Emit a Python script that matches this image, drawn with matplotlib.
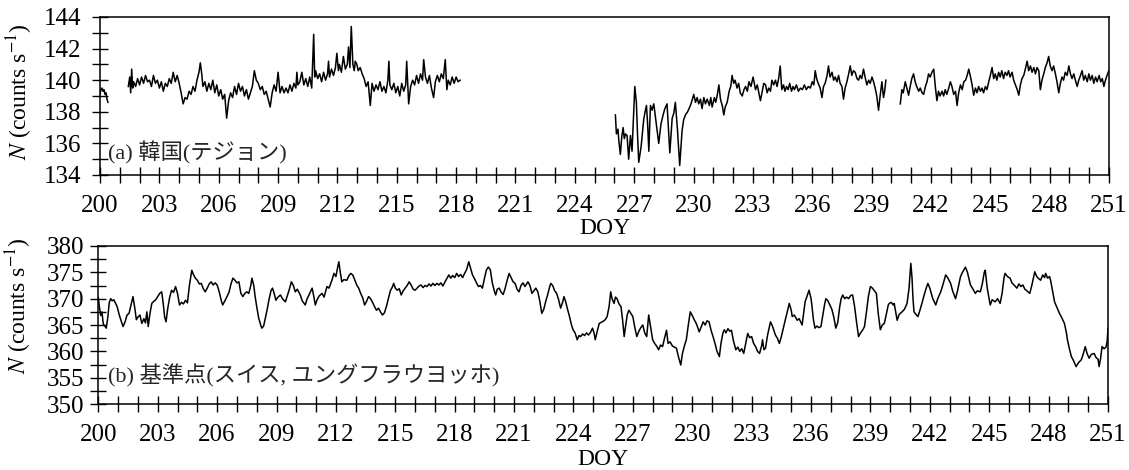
import numpy as np
import matplotlib
matplotlib.use("Agg")
import matplotlib.pyplot as plt
from matplotlib.ticker import FixedLocator, MultipleLocator

plt.rcParams['font.family'] = ['Liberation Serif', 'Noto Sans CJK JP']
plt.rcParams['mathtext.fontset'] = 'stix'

# x axis: DOY, labelled every 3 days, tick every day
doy_labels = [200, 203, 206, 209, 212, 215, 218, 221, 224, 227, 230, 233, 236, 239, 242, 245, 248, 251]

# (a) Daejeon, Korea -- (DOY, counts/s), four pieces with data gaps between them
daejeon_1 = [(200.0, 139.1), (200.05, 139.4), (200.1, 139.5), (200.15, 139.3), (200.2, 139.4),
             (200.25, 139.1), (200.3, 139.2), (200.35, 138.8), (200.4, 138.6)]

daejeon_2 = [
    (201.43, 139.6), (201.5, 140.2), (201.55, 139.2), (201.6, 140.7), (201.65, 139.5), (201.7, 139.9),
    (201.8, 139.6), (201.9, 140.1), (202.0, 139.7), (202.1, 140.2), (202.2, 139.8), (202.3, 140.3),
    (202.4, 139.9), (202.5, 140.0), (202.6, 139.6), (202.7, 140.3), (202.8, 139.8), (202.9, 140.0),
    (203.0, 139.5), (203.1, 139.9), (203.2, 139.3), (203.3, 139.8), (203.4, 139.6), (203.5, 140.1),
    (203.6, 139.8), (203.7, 140.5), (203.8, 139.9), (203.9, 140.3), (204.0, 139.8), (204.1, 139.2),
    (204.2, 138.5), (204.3, 138.9), (204.4, 138.8), (204.5, 139.3), (204.6, 139.1), (204.7, 139.6),
    (204.8, 139.3), (204.9, 140.0), (205.0, 140.5), (205.07, 141.1), (205.15, 140.3), (205.2, 139.6),
    (205.3, 139.9), (205.4, 139.3), (205.5, 139.8), (205.6, 139.4), (205.7, 140.0), (205.8, 139.2),
    (205.9, 139.7), (206.0, 139.0), (206.1, 139.4), (206.2, 138.8), (206.3, 139.1), (206.4, 137.6),
    (206.5, 138.7), (206.6, 139.2), (206.7, 138.9), (206.8, 139.6), (206.9, 139.1), (207.0, 139.8),
    (207.1, 139.3), (207.2, 139.6), (207.3, 139.0), (207.4, 139.4), (207.5, 138.8), (207.6, 139.2),
    (207.7, 139.6), (207.8, 140.6), (207.9, 140.0), (208.0, 139.8), (208.1, 139.4), (208.2, 139.6),
    (208.3, 139.1), (208.4, 139.3), (208.5, 138.8), (208.6, 138.3), (208.7, 139.2), (208.8, 139.7),
    (208.9, 139.3), (209.0, 140.5), (209.1, 139.2), (209.2, 139.6), (209.3, 139.2), (209.4, 139.5),
    (209.5, 139.2), (209.6, 139.7), (209.7, 139.3), (209.8, 139.8), (209.9, 139.5), (209.95, 140.5),
    (210.0, 139.7), (210.1, 139.9), (210.2, 140.5), (210.3, 139.7), (210.4, 140.1), (210.5, 139.6),
    (210.6, 140.2), (210.7, 139.5), (210.8, 142.9), (210.85, 140.2), (210.9, 140.6), (211.0, 140.1),
    (211.1, 140.4), (211.2, 139.9), (211.3, 140.5), (211.4, 140.0), (211.5, 140.4), (211.55, 141.2),
    (211.6, 140.2), (211.7, 140.7), (211.8, 140.3), (211.9, 140.8), (211.97, 141.7), (212.05, 140.6),
    (212.1, 141.0), (212.2, 140.5), (212.3, 141.5), (212.4, 140.7), (212.5, 141.0), (212.56, 142.1),
    (212.63, 140.8), (212.7, 143.4), (212.78, 141.0), (212.85, 140.6), (212.9, 141.2), (212.98, 141.0),
    (213.05, 140.6), (213.15, 140.8), (213.25, 140.4), (213.35, 140.1), (213.45, 139.6), (213.55, 139.9),
    (213.66, 138.4), (213.75, 139.8), (213.85, 139.3), (213.95, 139.7), (214.05, 139.4), (214.15, 139.9),
    (214.25, 139.3), (214.35, 139.6), (214.45, 139.2), (214.55, 140.0), (214.6, 141.2), (214.65, 139.7),
    (214.75, 139.4), (214.85, 139.8), (214.95, 139.2), (215.05, 139.6), (215.15, 139.0), (215.25, 139.8),
    (215.35, 139.3), (215.45, 139.7), (215.5, 141.2), (215.6, 138.5), (215.7, 139.6), (215.8, 140.0),
    (215.9, 139.7), (216.0, 140.3), (216.1, 139.8), (216.2, 140.4), (216.3, 140.0), (216.36, 141.3),
    (216.45, 140.2), (216.55, 139.8), (216.65, 140.3), (216.75, 139.5), (216.86, 138.9), (216.95, 139.9),
    (217.05, 140.3), (217.15, 139.9), (217.25, 140.4), (217.35, 140.1), (217.45, 141.3), (217.53, 139.4),
    (217.6, 140.0), (217.7, 139.7), (217.8, 140.2), (217.9, 139.8), (218.0, 140.2), (218.1, 139.9),
    (218.2, 140.0),
]

daejeon_3 = [
    (226.05, 137.8), (226.1, 136.6), (226.18, 136.9), (226.22, 136.2), (226.3, 135.3), (226.37, 136.4),
    (226.44, 137.0), (226.5, 136.3), (226.56, 136.6), (226.64, 136.5), (226.72, 135.0), (226.81, 136.5),
    (226.89, 135.5), (226.96, 137.5), (227.03, 139.6), (227.11, 138.6), (227.17, 136.5), (227.23, 134.8),
    (227.35, 135.8), (227.48, 137.5), (227.55, 138.0), (227.62, 138.4), (227.68, 137.2), (227.74, 135.5),
    (227.82, 138.4), (227.9, 138.1), (227.99, 138.5), (228.08, 137.6), (228.16, 136.8), (228.24, 136.0),
    (228.35, 137.2), (228.46, 137.8), (228.55, 138.2), (228.66, 138.5), (228.73, 137.0), (228.8, 135.4),
    (228.92, 137.6), (229.0, 137.9), (229.08, 138.6), (229.18, 137.0), (229.3, 134.6), (229.42, 136.8),
    (229.5, 137.5), (229.59, 137.8), (229.7, 138.0), (229.84, 138.4), (229.92, 138.7), (230.01, 139.1),
    (230.1, 138.6), (230.18, 138.9), (230.26, 138.5), (230.35, 138.8), (230.43, 138.2), (230.52, 138.9),
    (230.6, 138.5), (230.69, 138.8), (230.8, 138.4), (230.87, 138.9), (230.94, 138.3), (231.05, 138.9),
    (231.12, 138.6), (231.19, 139.0), (231.28, 139.7), (231.36, 138.8), (231.45, 138.4), (231.53, 137.8),
    (231.6, 138.3), (231.7, 138.6), (231.8, 139.3), (231.88, 139.6), (231.95, 140.3), (232.03, 139.8),
    (232.1, 140.0), (232.2, 139.5), (232.28, 139.8), (232.36, 139.2), (232.46, 139.0), (232.55, 139.4),
    (232.63, 139.6), (232.72, 139.3), (232.8, 139.9), (232.9, 139.6), (233.01, 140.2), (233.07, 139.8),
    (233.13, 139.4), (233.22, 139.7), (233.3, 139.2), (233.38, 138.7), (233.47, 139.3), (233.55, 139.8),
    (233.64, 139.7), (233.72, 139.2), (233.8, 139.5), (233.89, 139.3), (233.96, 140.0), (234.05, 139.7),
    (234.14, 140.0), (234.22, 139.6), (234.3, 140.1), (234.38, 140.9), (234.46, 139.4), (234.55, 139.7),
    (234.62, 139.3), (234.7, 139.6), (234.78, 139.4), (234.86, 139.8), (234.95, 139.3), (235.03, 139.6),
    (235.1, 139.4), (235.2, 139.7), (235.3, 139.3), (235.4, 139.5), (235.5, 139.4), (235.6, 139.7),
    (235.7, 139.4), (235.8, 139.6), (235.9, 139.5), (236.0, 139.9), (236.08, 139.7), (236.15, 140.6),
    (236.22, 140.1), (236.3, 139.8), (236.4, 139.5), (236.49, 138.9), (236.57, 139.6), (236.65, 139.8),
    (236.75, 140.3), (236.82, 140.9), (236.9, 140.2), (237.0, 140.5), (237.08, 140.0), (237.16, 140.2),
    (237.25, 139.9), (237.33, 140.3), (237.41, 139.8), (237.5, 139.6), (237.58, 138.8), (237.66, 139.5),
    (237.75, 139.9), (237.84, 140.4), (237.92, 140.9), (238.0, 140.3), (238.08, 140.6), (238.17, 140.5),
    (238.26, 140.1), (238.34, 140.0), (238.42, 140.3), (238.5, 140.1), (238.59, 140.7), (238.67, 140.2),
    (238.76, 139.7), (238.85, 140.0), (238.93, 139.8), (239.02, 140.2), (239.1, 139.9), (239.18, 139.5),
    (239.26, 139.0), (239.35, 138.1), (239.43, 139.0), (239.52, 139.9), (239.6, 138.9), (239.66, 139.3),
    (239.72, 140.0),
]

daejeon_4 = [
    (240.45, 138.5), (240.53, 139.4), (240.6, 139.2), (240.7, 139.9), (240.78, 139.5), (240.87, 139.05),
    (240.95, 139.6), (241.03, 140.1), (241.12, 140.4), (241.2, 139.9), (241.28, 139.6), (241.38, 139.3),
    (241.46, 139.5), (241.55, 139.2), (241.63, 139.1), (241.72, 139.6), (241.8, 139.9), (241.88, 140.4),
    (241.96, 140.2), (242.05, 140.5), (242.14, 140.7), (242.22, 139.6), (242.3, 138.7), (242.38, 139.3),
    (242.46, 139.0), (242.56, 139.3), (242.64, 139.0), (242.72, 139.4), (242.8, 139.1), (242.9, 139.5),
    (242.98, 139.9), (243.06, 139.6), (243.15, 139.1), (243.24, 139.3), (243.32, 138.4), (243.4, 139.2),
    (243.49, 139.7), (243.58, 139.4), (243.66, 139.9), (243.75, 140.0), (243.83, 140.3), (243.91, 140.7),
    (244.0, 140.2), (244.08, 139.7), (244.16, 139.05), (244.25, 139.5), (244.33, 139.2), (244.41, 139.6),
    (244.5, 139.3), (244.58, 139.5), (244.66, 139.2), (244.75, 139.6), (244.83, 139.4), (244.92, 139.9),
    (245.0, 140.3), (245.09, 140.8), (245.17, 140.1), (245.25, 140.4), (245.33, 140.0), (245.42, 140.5),
    (245.5, 140.2), (245.58, 140.6), (245.67, 140.1), (245.75, 140.5), (245.84, 140.3), (245.92, 140.6),
    (246.0, 140.2), (246.1, 140.5), (246.18, 140.0), (246.27, 139.7), (246.36, 139.4), (246.44, 139.05),
    (246.52, 139.7), (246.6, 140.1), (246.69, 140.3), (246.77, 140.7), (246.86, 141.2), (246.94, 140.6),
    (247.03, 140.9), (247.11, 140.5), (247.2, 140.8), (247.28, 140.4), (247.36, 140.8), (247.45, 140.6),
    (247.53, 139.4), (247.61, 140.0), (247.7, 140.4), (247.78, 140.8), (247.87, 141.1), (247.95, 141.5),
    (248.03, 140.9), (248.12, 140.6), (248.2, 140.9), (248.29, 140.4), (248.37, 139.9), (248.46, 139.2),
    (248.54, 139.8), (248.62, 140.2), (248.7, 140.0), (248.79, 140.5), (248.88, 140.3), (248.97, 140.9),
    (249.05, 140.4), (249.13, 140.1), (249.22, 140.4), (249.3, 140.0), (249.39, 139.6), (249.47, 140.0),
    (249.56, 140.3), (249.64, 140.6), (249.72, 140.0), (249.8, 140.3), (249.9, 139.9), (249.98, 140.4),
    (250.06, 140.0), (250.15, 140.3), (250.23, 139.8), (250.32, 140.2), (250.4, 139.9), (250.5, 140.3),
    (250.58, 139.9), (250.66, 140.1), (250.74, 139.6), (250.82, 140.0), (250.9, 140.3), (250.99, 140.6),
]

# (b) reference station, Jungfraujoch (Switzerland)
jungfrau = [
    (200.0, 370.2), (200.05, 368.5), (200.12, 366.8), (200.18, 367.5), (200.25, 365.2), (200.33, 364.8),
    (200.4, 364.4), (200.48, 366.5), (200.55, 369.2), (200.62, 370.0), (200.7, 369.6), (200.78, 369.8),
    (200.86, 369.2), (200.95, 368.5), (201.05, 367.0), (201.15, 365.8), (201.25, 364.7), (201.35, 365.6),
    (201.45, 366.9), (201.55, 367.2), (201.65, 368.8), (201.75, 370.4), (201.85, 368.0), (201.92, 366.0),
    (202.0, 366.5), (202.1, 366.9), (202.2, 365.3), (202.3, 366.2), (202.38, 365.4), (202.45, 367.5),
    (202.52, 364.7), (202.6, 367.0), (202.7, 369.1), (202.8, 369.5), (202.9, 369.8), (203.0, 370.4),
    (203.1, 371.0), (203.2, 371.3), (203.28, 369.0), (203.35, 366.5), (203.42, 365.6), (203.5, 368.0),
    (203.6, 370.2), (203.7, 371.6), (203.8, 371.2), (203.9, 372.3), (204.0, 371.0), (204.1, 368.8),
    (204.2, 369.3), (204.3, 369.0), (204.4, 369.7), (204.5, 369.2), (204.6, 372.5), (204.72, 375.4),
    (204.8, 374.6), (204.9, 373.9), (205.0, 373.5), (205.1, 372.8), (205.2, 372.9), (205.3, 371.9),
    (205.4, 371.3), (205.5, 372.0), (205.6, 372.8), (205.7, 373.2), (205.8, 372.6), (205.9, 373.0),
    (206.0, 372.6), (206.1, 371.4), (206.2, 369.8), (206.28, 368.8), (206.38, 369.5), (206.5, 370.4),
    (206.6, 371.2), (206.7, 372.8), (206.8, 373.9), (206.9, 373.5), (207.0, 373.0), (207.1, 373.2),
    (207.2, 371.0), (207.3, 370.4), (207.4, 371.0), (207.5, 371.3), (207.6, 371.0), (207.7, 372.5),
    (207.76, 373.9), (207.85, 372.5), (207.92, 370.4), (208.0, 368.5), (208.1, 366.3), (208.2, 365.0),
    (208.26, 364.4), (208.35, 364.8), (208.42, 366.0), (208.52, 367.8), (208.62, 369.8), (208.72, 371.5),
    (208.8, 372.0), (208.88, 371.0), (208.97, 369.7), (209.05, 370.2), (209.2, 370.7), (209.3, 370.0),
    (209.45, 369.4), (209.55, 370.6), (209.65, 371.8), (209.75, 373.2), (209.85, 372.5), (209.95, 371.3),
    (210.05, 371.8), (210.2, 370.7), (210.3, 369.6), (210.45, 368.8), (210.55, 370.0), (210.7, 371.2),
    (210.8, 372.0), (210.88, 370.5), (210.96, 368.8), (211.05, 369.8), (211.15, 370.5), (211.3, 371.0),
    (211.4, 370.3), (211.55, 372.3), (211.65, 372.0), (211.8, 373.5), (211.9, 374.8), (212.0, 374.2),
    (212.08, 375.8), (212.15, 377.0), (212.22, 375.0), (212.3, 373.2), (212.4, 373.6), (212.55, 373.5),
    (212.65, 374.3), (212.75, 374.8), (212.85, 374.5), (212.95, 373.6), (213.05, 372.6), (213.15, 372.0),
    (213.25, 371.0), (213.35, 370.2), (213.45, 368.8), (213.55, 369.5), (213.65, 370.4), (213.75, 370.0),
    (213.85, 369.3), (213.95, 368.5), (214.05, 367.8), (214.15, 368.2), (214.25, 367.5), (214.35, 366.9),
    (214.45, 367.3), (214.55, 368.5), (214.65, 370.0), (214.75, 371.5), (214.85, 372.2), (214.92, 372.9),
    (215.0, 372.0), (215.1, 371.6), (215.2, 371.9), (215.3, 370.7), (215.4, 371.5), (215.5, 372.0),
    (215.6, 372.5), (215.7, 373.2), (215.8, 372.6), (215.9, 371.8), (216.0, 371.6), (216.1, 372.0),
    (216.2, 372.4), (216.3, 372.6), (216.4, 372.1), (216.5, 372.5), (216.6, 372.3), (216.7, 372.8),
    (216.8, 372.4), (216.9, 372.9), (217.0, 372.5), (217.1, 372.9), (217.2, 372.6), (217.3, 373.0),
    (217.4, 372.4), (217.5, 373.1), (217.6, 373.8), (217.7, 374.5), (217.8, 373.9), (217.9, 374.4),
    (218.0, 374.0), (218.1, 374.8), (218.2, 374.2), (218.3, 374.6), (218.4, 374.0), (218.5, 374.8),
    (218.6, 375.5), (218.71, 377.0), (218.8, 375.8), (218.9, 374.5), (219.0, 373.8), (219.1, 373.0),
    (219.2, 372.3), (219.3, 372.5), (219.4, 372.0), (219.5, 373.8), (219.6, 375.4), (219.7, 376.0),
    (219.8, 375.5), (219.9, 373.0), (220.0, 371.5), (220.07, 370.7), (220.15, 371.8), (220.25, 372.0),
    (220.35, 371.2), (220.45, 370.8), (220.55, 372.0), (220.65, 373.5), (220.75, 374.8), (220.85, 374.0),
    (220.95, 373.2), (221.05, 372.9), (221.15, 371.8), (221.25, 371.3), (221.35, 372.5), (221.45, 373.0),
    (221.55, 372.3), (221.7, 373.2), (221.8, 372.5), (221.9, 371.0), (222.0, 371.5), (222.1, 372.0),
    (222.2, 371.3), (222.3, 369.5), (222.4, 367.2), (222.5, 368.0), (222.6, 369.5), (222.7, 370.8),
    (222.78, 372.0), (222.85, 372.9), (222.95, 372.5), (223.05, 371.5), (223.15, 371.0), (223.25, 369.8),
    (223.35, 368.2), (223.45, 369.3), (223.52, 370.4), (223.6, 369.5), (223.7, 368.0), (223.8, 366.6),
    (223.9, 365.0), (223.98, 364.1), (224.08, 363.5), (224.19, 362.2), (224.28, 363.0), (224.36, 362.8),
    (224.46, 363.3), (224.56, 363.0), (224.66, 363.5), (224.76, 363.1), (224.86, 363.6), (224.96, 364.4),
    (225.04, 363.5), (225.1, 362.2), (225.2, 363.8), (225.3, 365.3), (225.4, 365.5), (225.5, 365.7),
    (225.6, 366.0), (225.7, 366.6), (225.8, 368.5), (225.88, 371.3), (225.95, 370.0), (226.05, 369.1),
    (226.12, 370.3), (226.2, 370.0), (226.3, 369.0), (226.4, 368.5), (226.48, 366.0), (226.56, 362.8),
    (226.64, 365.0), (226.72, 367.0), (226.8, 367.8), (226.9, 367.2), (227.0, 366.6), (227.1, 364.5),
    (227.2, 362.8), (227.3, 363.8), (227.4, 364.5), (227.5, 365.0), (227.6, 363.5), (227.7, 362.8),
    (227.8, 366.9), (227.9, 364.5), (228.0, 362.2), (228.1, 361.5), (228.2, 361.0), (228.3, 360.3),
    (228.4, 361.2), (228.5, 360.9), (228.6, 362.5), (228.7, 364.0), (228.78, 361.5), (228.88, 361.8),
    (229.0, 361.0), (229.1, 360.8), (229.2, 360.6), (229.3, 359.0), (229.42, 357.4), (229.5, 359.5),
    (229.6, 361.0), (229.7, 362.2), (229.8, 365.0), (229.9, 367.5), (230.0, 366.8), (230.1, 366.0),
    (230.2, 365.3), (230.28, 364.5), (230.35, 363.7), (230.45, 364.6), (230.55, 365.6), (230.65, 365.0),
    (230.75, 365.8), (230.85, 365.6), (230.95, 364.0), (231.05, 362.8), (231.15, 361.5), (231.25, 360.0),
    (231.37, 359.0), (231.45, 361.5), (231.55, 363.5), (231.62, 364.1), (231.7, 363.5), (231.8, 364.3),
    (231.9, 363.8), (231.98, 364.0), (232.08, 362.0), (232.2, 360.3), (232.3, 360.8), (232.4, 360.0),
    (232.5, 360.5), (232.6, 359.6), (232.7, 361.5), (232.8, 363.4), (232.9, 362.6), (233.0, 362.8),
    (233.1, 361.5), (233.2, 360.9), (233.3, 360.0), (233.4, 359.6), (233.5, 361.0), (233.55, 362.2),
    (233.62, 360.3), (233.7, 360.6), (233.8, 363.0), (233.95, 365.6), (234.05, 364.8), (234.2, 363.1),
    (234.3, 362.5), (234.4, 361.5), (234.5, 362.8), (234.6, 364.4), (234.7, 366.0), (234.8, 367.5),
    (234.9, 369.1), (235.0, 367.8), (235.05, 366.6), (235.15, 366.9), (235.3, 365.9), (235.4, 366.2),
    (235.55, 365.0), (235.62, 367.0), (235.7, 369.4), (235.8, 370.5), (235.9, 371.6), (236.0, 370.0),
    (236.05, 368.5), (236.12, 366.0), (236.2, 364.4), (236.3, 364.8), (236.4, 364.5), (236.5, 364.7),
    (236.6, 367.0), (236.68, 368.8), (236.75, 370.0), (236.85, 369.6), (236.95, 368.8), (237.05, 368.0),
    (237.15, 366.5), (237.25, 364.4), (237.35, 365.5), (237.45, 368.5), (237.52, 370.0), (237.6, 370.7),
    (237.7, 370.0), (237.8, 370.3), (237.9, 370.0), (238.0, 370.6), (238.1, 370.7), (238.2, 368.5),
    (238.3, 365.5), (238.4, 362.8), (238.5, 363.5), (238.6, 364.0), (238.7, 364.7), (238.8, 367.5),
    (238.9, 370.5), (239.0, 372.3), (239.1, 372.0), (239.2, 371.5), (239.3, 371.0), (239.4, 367.0),
    (239.5, 364.1), (239.6, 365.0), (239.7, 365.3), (239.8, 367.0), (239.9, 368.8), (239.95, 369.1),
    (240.05, 369.3), (240.15, 368.8), (240.2, 369.1), (240.3, 367.0), (240.35, 365.9), (240.45, 367.0),
    (240.6, 367.5), (240.72, 368.0), (240.85, 369.1), (240.95, 372.0), (241.04, 376.7), (241.1, 374.0),
    (241.15, 370.0), (241.2, 367.5), (241.3, 367.0), (241.4, 366.6), (241.5, 367.8), (241.6, 369.1),
    (241.7, 370.5), (241.8, 371.8), (241.9, 372.9), (242.0, 372.0), (242.05, 371.3), (242.15, 370.0),
    (242.3, 368.8), (242.4, 370.0), (242.55, 371.3), (242.65, 372.5), (242.75, 373.8), (242.8, 374.5),
    (242.9, 374.0), (243.05, 372.9), (243.15, 371.5), (243.3, 370.0), (243.4, 371.5), (243.55, 374.2),
    (243.65, 375.0), (243.8, 376.0), (243.9, 375.0), (244.05, 372.6), (244.15, 372.0), (244.3, 371.0),
    (244.4, 371.5), (244.55, 371.3), (244.65, 372.8), (244.75, 375.0), (244.8, 375.4), (244.9, 372.0),
    (245.05, 368.8), (245.15, 369.8), (245.3, 369.4), (245.42, 370.0), (245.55, 369.1), (245.65, 371.0),
    (245.75, 374.0), (245.8, 374.8), (245.92, 374.2), (246.05, 373.9), (246.15, 373.0), (246.25, 372.6),
    (246.4, 372.0), (246.5, 372.8), (246.6, 372.3), (246.7, 372.6), (246.8, 371.8), (246.9, 371.5),
    (247.05, 371.0), (247.15, 372.5), (247.3, 375.1), (247.4, 374.2), (247.5, 373.8), (247.6, 373.5),
    (247.7, 374.5), (247.8, 374.0), (247.85, 374.8), (247.95, 373.9), (248.05, 374.2), (248.1, 373.5),
    (248.2, 371.5), (248.3, 369.4), (248.4, 368.5), (248.55, 367.2), (248.65, 366.5), (248.8, 365.3),
    (248.9, 363.5), (248.95, 362.2), (249.05, 360.5), (249.15, 359.0), (249.25, 358.3), (249.39, 357.1),
    (249.5, 357.8), (249.65, 358.4), (249.75, 359.5), (249.85, 360.9), (249.95, 359.5), (250.05, 358.7),
    (250.15, 359.4), (250.3, 359.6), (250.4, 358.8), (250.5, 358.5), (250.55, 357.1), (250.62, 358.5),
    (250.7, 360.9), (250.8, 360.5), (250.9, 360.8), (250.96, 362.0), (251.0, 364.4),
]

panel_a = "(a) 韓国(テジョン)"
panel_b = "(b) 基準点(スイス, ユングフラウヨッホ)"
ylabel = r"$N$ (counts s$^{-1}$)"


def style_axis(ax, ymin, ymax, ymajor, yminor, ypad):
    ax.set_xlim(200, 251)
    ax.set_ylim(ymin, ymax)
    ax.xaxis.set_major_locator(FixedLocator(doy_labels))
    ax.xaxis.set_minor_locator(MultipleLocator(1))
    ax.yaxis.set_major_locator(MultipleLocator(ymajor))
    ax.yaxis.set_minor_locator(MultipleLocator(yminor))
    ax.tick_params(which="both", direction="inout", length=11, width=1.0,
                   top=False, right=False, labelsize=18, colors="black")
    ax.tick_params(axis="x", pad=9)
    ax.tick_params(axis="y", pad=ypad)
    for sp in ax.spines.values():
        sp.set_linewidth(1.1)
    ax.set_xlabel("DOY", fontsize=17)
    ax.set_ylabel(ylabel, fontsize=17)


def plot_neutron_monitors():
    fig = plt.figure(figsize=(11.29, 4.70), dpi=100)
    ax1 = fig.add_axes([0.0886, 0.6277, 0.8937, 0.3362])
    ax2 = fig.add_axes([0.0871, 0.1404, 0.8943, 0.3362])

    for seg in (daejeon_1, daejeon_2, daejeon_3, daejeon_4):
        doy, n = np.array(seg).T
        ax1.plot(doy, n, color="black", linewidth=1.1)
    style_axis(ax1, 134, 144, 2, 1, 8)
    ax1.yaxis.set_label_coords(-0.064, 0.525)
    ax1.xaxis.set_label_coords(0.5, -0.27)
    ax1.text(0.008, 0.14, panel_a, transform=ax1.transAxes, fontsize=16,
             color="#262626", va="center", ha="left")

    doy, n = np.array(jungfrau).T
    ax2.plot(doy, n, color="black", linewidth=1.1)
    style_axis(ax2, 350, 380, 5, 2.5, 5)
    ax2.yaxis.set_label_coords(-0.064, 0.62)
    ax2.xaxis.set_label_coords(0.5, -0.285)
    ax2.text(0.01, 0.18, panel_b, transform=ax2.transAxes, fontsize=16,
             color="#262626", va="center", ha="left")

    fig.savefig("out.png", dpi=100)


if __name__ == "__main__":
    plot_neutron_monitors()
